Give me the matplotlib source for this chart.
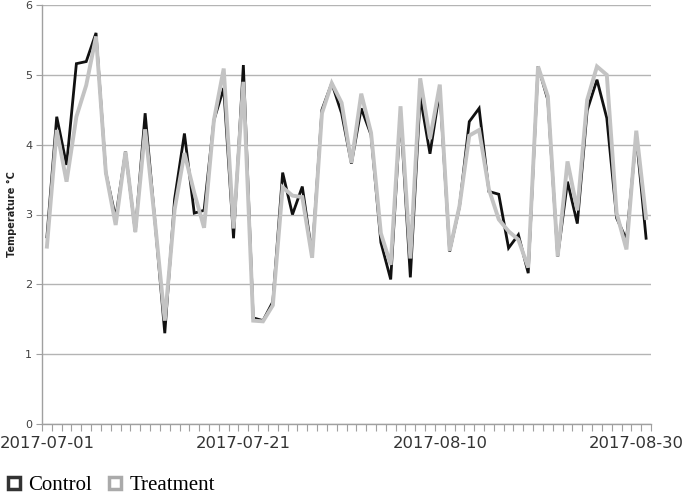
import matplotlib
matplotlib.use("Agg")
import matplotlib.pyplot as plt
from matplotlib import font_manager
from matplotlib.lines import Line2D
import numpy as np
import pandas as pd

dates = pd.date_range("2017-07-01", "2017-08-31", freq="D")
control = [2.68, 4.40, 3.71, 5.16, 5.19, 5.60, 3.60, 2.95, 3.90, 2.75,
           4.45, 2.90, 1.30, 3.22, 4.16, 3.02, 3.06, 4.35, 4.81, 2.66,
           5.14, 1.52, 1.48, 1.75, 3.60, 3.00, 3.40, 2.42, 4.50, 4.88,
           4.45, 3.73, 4.52, 4.14, 2.60, 2.07, 4.45, 2.10, 4.69, 3.87,
           4.78, 2.47, 3.11, 4.33, 4.52, 3.33, 3.29, 2.52, 2.71, 2.16,
           5.12, 4.64, 2.40, 3.47, 2.87, 4.49, 4.93, 4.38, 2.95, 2.64,
           4.12, 2.66]
treatment = [2.54, 4.21, 3.47, 4.40, 4.85, 5.55, 3.60, 2.85, 3.90, 2.75,
             4.22, 2.90, 1.48, 3.07, 3.88, 3.31, 2.81, 4.35, 5.09, 2.80,
             4.90, 1.48, 1.47, 1.70, 3.39, 3.27, 3.25, 2.38, 4.45, 4.88,
             4.60, 3.74, 4.73, 4.17, 2.73, 2.28, 4.55, 2.37, 4.95, 4.08,
             4.86, 2.48, 3.12, 4.13, 4.21, 3.36, 2.93, 2.76, 2.64, 2.24,
             5.12, 4.69, 2.40, 3.76, 3.06, 4.64, 5.12, 5.00, 3.02, 2.50,
             4.20, 2.95]
tick_dates = ["2017-07-01", "2017-07-21", "2017-08-10", "2017-08-30"]
y_ticks = [0, 1, 2, 3, 4, 5, 6]

avail = {f.name for f in font_manager.fontManager.ttflist}
if "Liberation Sans Narrow" in avail:
    xfont, xsize = "Liberation Sans Narrow", 15
else:
    xfont, xsize = "DejaVu Sans", 11.8
serif = "Liberation Serif" if "Liberation Serif" in avail else "DejaVu Serif"

fig = plt.figure(figsize=(6.85, 4.95), dpi=100)
ax = fig.add_axes([42 / 685, 71 / 495, 609 / 685, 419 / 495])

x = np.arange(len(dates))
ax.plot(x, control, color="#111111", lw=2.0, solid_joinstyle="miter", zorder=3)
ax.plot(x, treatment, color="#c3c3c3", lw=2.8, solid_joinstyle="miter", zorder=4)

ax.set_xlim(-0.5, len(dates) - 0.5)
ax.set_ylim(0, 6)
ax.set_yticks(y_ticks)
ax.set_yticklabels([str(v) for v in y_ticks], fontsize=8, color="#404040",
                   family="DejaVu Sans")
ax.yaxis.grid(True, color="#b4b4b4", lw=1.0)
ax.set_axisbelow(True)

pos = [list(dates.strftime("%Y-%m-%d")).index(d) for d in tick_dates]
ax.set_xticks(pos)
ax.set_xticklabels(tick_dates, fontsize=xsize, color="#333333", family=xfont)
ax.set_xticks(np.arange(-0.5, len(dates), 1.0), minor=True)
ax.tick_params(axis="x", which="major", length=0, pad=9)
ax.tick_params(axis="x", which="minor", length=5, color="#a0a0a0", width=0.8,
               direction="out")
ax.tick_params(axis="y", length=4, color="#a0a0a0", width=0.8, pad=3)

for s in ["top", "right"]:
    ax.spines[s].set_visible(False)
for s in ["left", "bottom"]:
    ax.spines[s].set_color("#a0a0a0")
    ax.spines[s].set_linewidth(1.0)

ax.set_ylabel("Temperature °C", fontsize=7, fontweight="bold", color="#222222",
              labelpad=6)

handles = [Line2D([], [], ls="none", marker="s", markersize=8,
                  markerfacecolor="white", markeredgecolor="#333333",
                  markeredgewidth=2.5),
           Line2D([], [], ls="none", marker="s", markersize=8,
                  markerfacecolor="white", markeredgecolor="#aaaaaa",
                  markeredgewidth=2.5)]
fig.legend(handles, ["Control", "Treatment"], loc="lower left",
           bbox_to_anchor=(0.008, 0.0), ncol=2, frameon=False,
           prop={"family": serif, "size": 15}, handlelength=0.8,
           handletextpad=0.3, columnspacing=0.7, borderaxespad=0.0,
           borderpad=0.0)

fig.savefig("out.png", dpi=100)
